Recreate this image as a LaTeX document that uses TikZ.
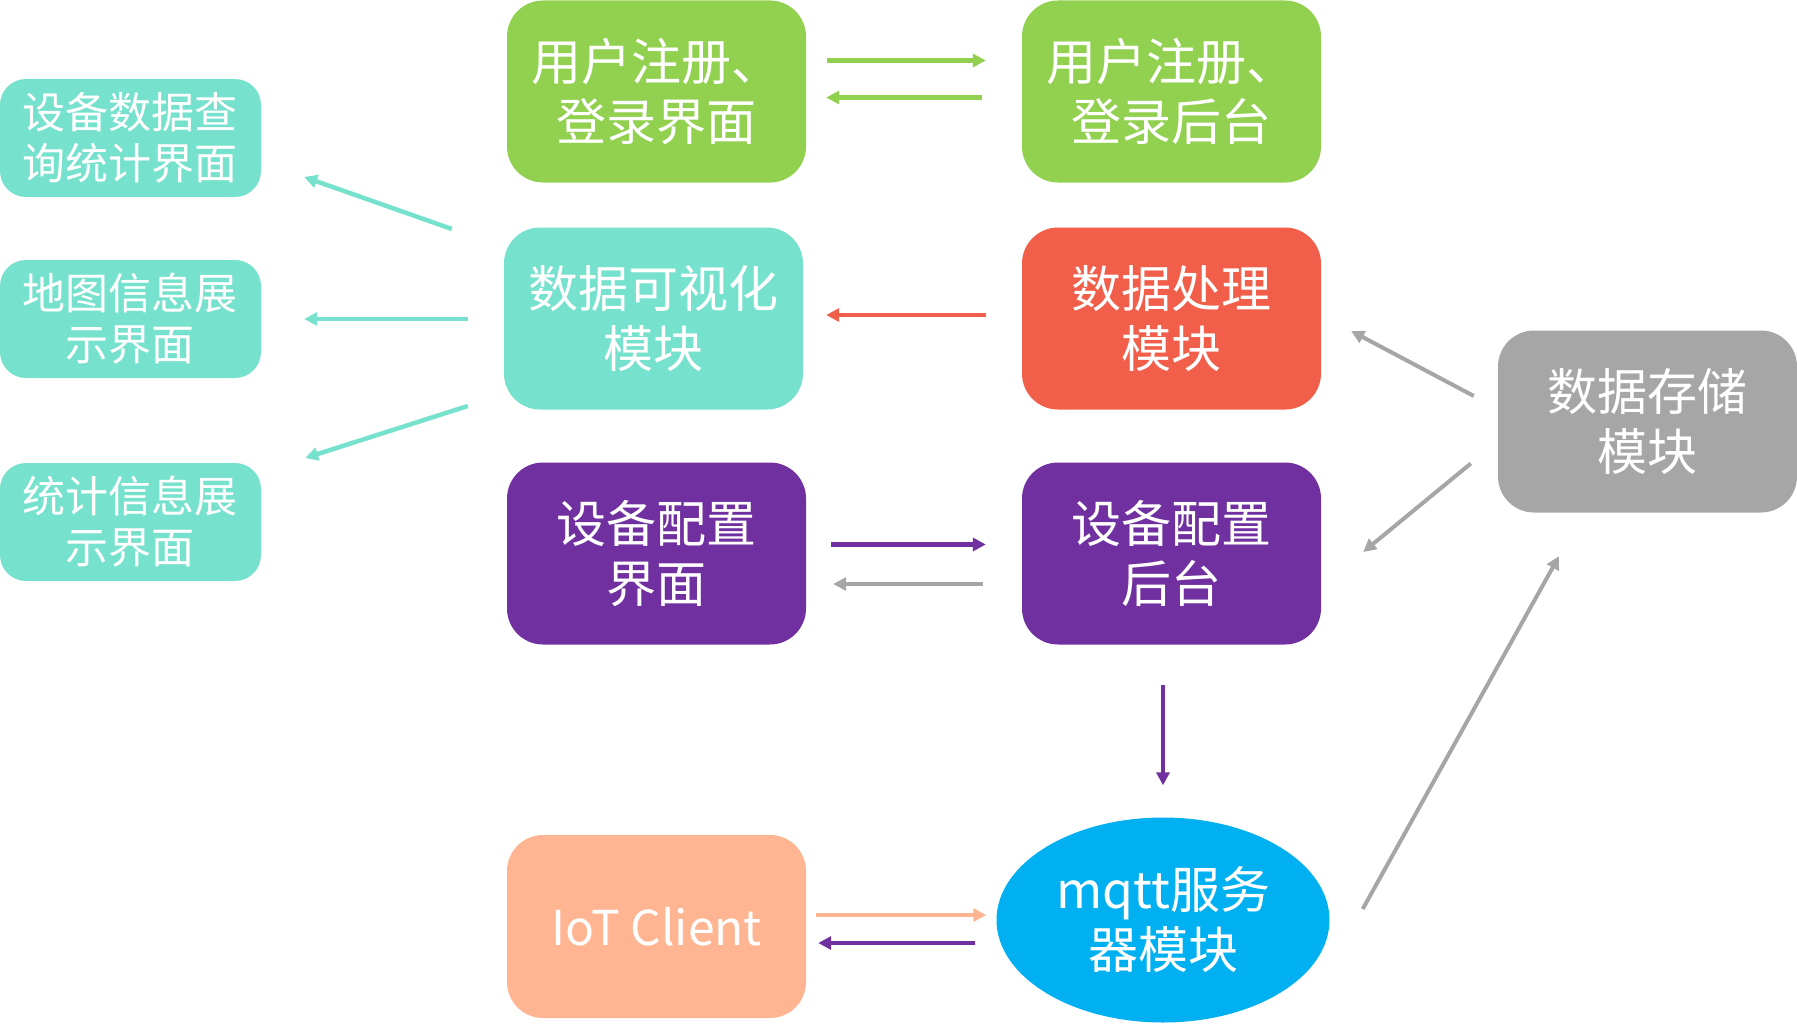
\documentclass[tikz,border=0pt]{standalone}
\usepackage{fontspec}
\setmainfont{Noto Sans CJK SC}
\usetikzlibrary{calc,arrows.meta,shapes.geometric}
\definecolor{cgreen}{HTML}{92D050}
\definecolor{ccyan}{HTML}{76E1CD}
\definecolor{cred}{HTML}{F15F4A}
\definecolor{cpurple}{HTML}{7030A0}
\definecolor{cgray}{HTML}{A6A6A6}
\definecolor{cpeach}{HTML}{FFB592}
\definecolor{cblue}{HTML}{00B0F0}
\tikzset{
  bigbox/.style={rectangle,rounded corners=36pt,minimum width=299pt,minimum height=182pt,inner sep=0pt,text=white,align=center,font=\fontsize{50}{60}\selectfont},
  smallbox/.style={rectangle,rounded corners=26pt,minimum width=261pt,minimum height=118pt,inner sep=0pt,text=white,fill=ccyan,align=center,font=\fontsize{43}{51}\selectfont},
  conn/.style={line width=4.5pt,-{Triangle[length=13pt,width=13pt]}},
}
\begin{document}
\begin{tikzpicture}[x=1pt,y=-1pt]
\useasboundingbox (0,0) rectangle (1797,1025);
% left boxes
\node[smallbox] (q1) at (130.5,138) {设备数据查\\询统计界面};
\node[smallbox] (q2) at (130.5,319) {地图信息展\\示界面};
\node[smallbox] (q3) at (130.5,522) {统计信息展\\示界面};
% main boxes
\node[bigbox,fill=cgreen] (ui1) at (656.5,91.5) {用户注册、\\登录界面};
\node[bigbox,fill=cgreen] (bk1) at (1171.5,91.5) {用户注册、\\登录后台};
\node[bigbox,fill=ccyan] (vis) at (653.5,318.5) {数据可视化\\模块};
\node[bigbox,fill=cred] (proc) at (1171.5,318.5) {数据处理\\模块};
\node[bigbox,fill=cgray] (store) at (1647.5,421.5) {数据存储\\模块};
\node[bigbox,fill=cpurple] (cfg1) at (656.5,553.5) {设备配置\\界面};
\node[bigbox,fill=cpurple] (cfg2) at (1171.5,553.5) {设备配置\\后台};
\node[bigbox,fill=cpeach,minimum height=183pt,font=\fontsize{48}{58}\selectfont] (iot) at (656.5,926.5) {IoT Client};
\node[ellipse,fill=cblue,minimum width=333pt,minimum height=205pt,inner sep=0pt,text=white,align=center,font=\fontsize{50}{60}\selectfont] (mqtt) at (1163,920) {mqtt服务\\器模块};
% arrows
\draw[conn,cgreen] ($(ui1.east)+(21,-31)$) -- ($(bk1.west)+(-36,-31)$);
\draw[conn,cgreen] ($(bk1.west)+(-40,6)$) -- ($(ui1.east)+(20,6)$);
\draw[conn,cred] ($(proc.west)+(-36,-3.5)$) -- ($(vis.east)+(23,-3.5)$);
\draw[conn,ccyan] ($(vis.west)+(-52,-89.5)$) -- ($(q1.east)+(43,39)$);
\draw[conn,ccyan] ($(vis.west)+(-36,0.5)$) -- ($(q2.east)+(43,0)$);
\draw[conn,ccyan] ($(vis.west)+(-36,87.5)$) -- ($(q3.east)+(44,-64)$);
\draw[conn,cpurple] ($(cfg1.east)+(25,-9)$) -- ($(cfg2.west)+(-36,-9)$);
\draw[conn,cgray] ($(cfg2.west)+(-39,30.5)$) -- ($(cfg1.east)+(27,30.5)$);
\draw[conn,cpurple,line width=4pt] ($(cfg2.south)+(-8.5,40)$) -- ($(mqtt.north)+(0,-32)$);
\draw[conn,cpeach] ($(iot.east)+(10,-11.5)$) -- ($(mqtt.west)+(-10,-5)$);
\draw[conn,cpurple] ($(mqtt.west)+(-21,23)$) -- ($(iot.east)+(12,16.5)$);
\draw[conn,cgray,line width=4pt] ($(store.west)+(-24,-25.5)$) -- ($(proc.east)+(30,12.5)$);
\draw[conn,cgray,line width=4pt] ($(store.west)+(-27,42)$) -- ($(cfg2.east)+(42,-1.5)$);
\draw[conn,cgray,line width=4pt] ($(mqtt.east)+(33,-11)$) -- ($(store.south)+(-88.5,43.5)$);
\end{tikzpicture}
\end{document}
